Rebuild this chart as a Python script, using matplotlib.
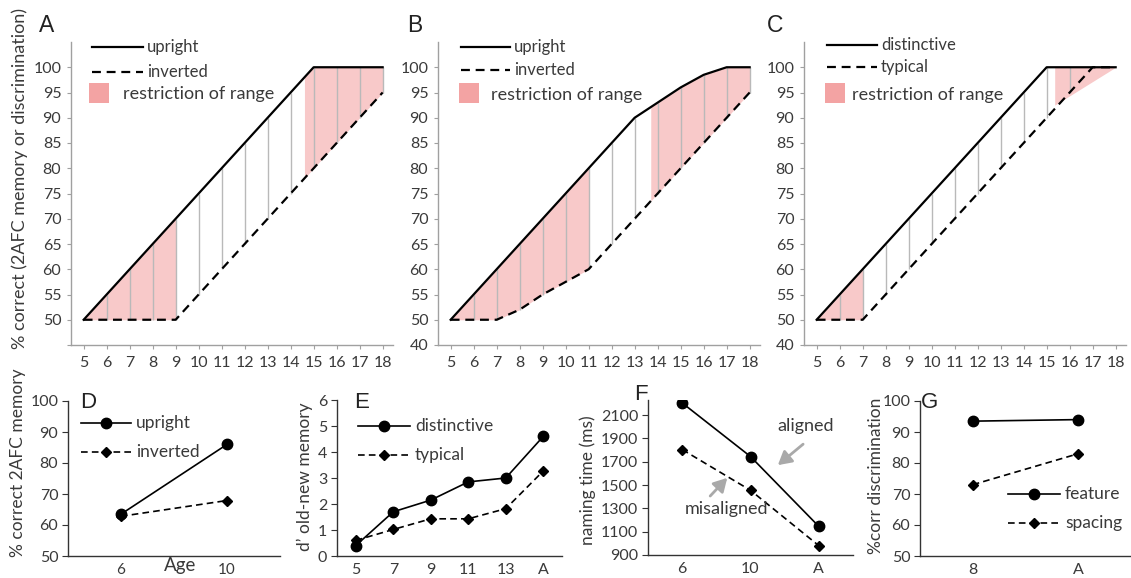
import matplotlib
matplotlib.use("Agg")
import matplotlib.pyplot as plt
import numpy as np
from matplotlib.lines import Line2D
from matplotlib.patches import Rectangle

plt.rcParams['font.family'] = ['Lato', 'DejaVu Sans']

# ---------------- data ----------------
ages = [5, 6, 7, 8, 9, 10, 11, 12, 13, 14, 15, 16, 17, 18]
upright_A = [50, 55, 60, 65, 70, 75, 80, 85, 90, 95, 100, 100, 100, 100]
inverted_A = [50, 50, 50, 50, 50, 55, 60, 65, 70, 75, 80, 85, 90, 95]
upright_B = [50, 55, 60, 65, 70, 75, 80, 85, 90, 93, 96, 98.5, 100, 100]
inverted_B = [50, 50, 50, 52, 55, 57.5, 60, 65, 70, 75, 80, 85, 90, 95]
distinctive_C = [50, 55, 60, 65, 70, 75, 80, 85, 90, 95, 100, 100, 100, 100]
typical_C = [50, 50, 50, 55, 60, 65, 70, 75, 80, 85, 90, 95, 100, 100]

shade_A = [(5, 9), (14.6, 18)]
shade_B = [(5, 11), (13.7, 18)]
shade_C = [(5, 7)]
shade_C_tri_x = [15.35, 18]
shade_C_tri_low = [92.5, 100]
shade_C_tri_high = [100, 100]

top_yticks = [45, 50, 55, 60, 65, 70, 75, 80, 85, 90, 95, 100]
top_yticklabels = ['40', '50', '55', '60', '65', '70', '75', '80', '85', '90', '95', '100']

groups_D = ['6', '10']
upright_D = [63.5, 86]
inverted_D = [62.8, 67.9]

groups_E = ['5', '7', '9', '11', '13', 'A']
distinctive_E = [0.4, 1.7, 2.15, 2.85, 3.0, 4.6]
typical_E = [0.6, 1.02, 1.43, 1.43, 1.82, 3.27]

groups_F = ['6', '10', 'A']
aligned_F = [2205, 1745, 1145]
misaligned_F = [1805, 1455, 980]

groups_G = ['8', 'A']
feature_G = [93.5, 94.0]
spacing_G = [73, 83]

# ---------------- layout helpers ----------------
W, H = 1131, 578
fig = plt.figure(figsize=(W / 100, H / 100), dpi=100)
fig.patch.set_facecolor('white')


def add_ax(left, top, right, bottom):
    return fig.add_axes([left / W, 1 - bottom / H, (right - left) / W, (bottom - top) / H])


def ftext(x, y, s, **kw):
    return fig.text(x / W, 1 - y / H, s, **kw)


def fline(xs, y, **kw):
    fig.add_artist(Line2D([x / W for x in xs], [1 - y / H] * len(xs),
                          transform=fig.transFigure, **kw))


PINK = '#f8c9c9'
PINK_LEG = '#f3a3a3'
GRAYLINE = '#b9b9b9'
SPINE_TOP = '#a0a0a0'
TXT = '#3a3a3a'
DASH = (0, (4, 2.6))
LETTER_FONT = ['Liberation Sans', 'DejaVu Sans']


def top_panel(left, up, lo, shades, leg_labels, letter, letter_x, show40=True, tri=None, leg=None):
    ax = add_ax(left, 42, left + 322, 345)
    ax.set_xlim(4.45, 18.45)
    ax.set_ylim(45, 105)
    for s in ['top', 'right']:
        ax.spines[s].set_visible(False)
    for s in ['left', 'bottom']:
        ax.spines[s].set_color(SPINE_TOP)
        ax.spines[s].set_linewidth(1)
    ax.set_xticks(ages)
    ax.set_xticklabels([str(a) for a in ages])
    ax.set_yticks(top_yticks)
    labs = list(top_yticklabels)
    if not show40:
        labs[0] = ''
    ax.set_yticklabels(labs)
    ax.tick_params(axis='both', direction='out', length=3, color=SPINE_TOP,
                   labelcolor=TXT, labelsize=11.5)
    ax.tick_params(axis='x', pad=5)
    ax.tick_params(axis='y', pad=4)
    # shading
    for a, b in shades:
        xs = np.linspace(a, b, 300)
        ax.fill_between(xs, np.interp(xs, ages, lo), np.interp(xs, ages, up),
                        color=PINK, lw=0, zorder=1)
    if tri is not None:
        tx, tlo, thi = tri
        ax.fill_between(tx, tlo, thi, color=PINK, lw=0, zorder=1)
    # gray connecting lines
    ax.vlines(ages, lo, up, colors=GRAYLINE, lw=1, zorder=2)
    ax.plot(ages, lo, color='black', lw=1.6, ls=DASH, zorder=3)
    ax.plot(ages, up, color='black', lw=1.6, zorder=4)
    # legend (manual)
    (lx0, lx1, ly1, ly2, sq_x, tx_r, ty_r) = leg
    fline([left + lx0, left + lx1], ly1, color='black', lw=1.6)
    ftext(left + lx1 + 4, ly1, leg_labels[0], fontsize=12, color=TXT, va='center', ha='left')
    fline([left + lx0, left + lx1], ly2, color='black', lw=1.6, ls=DASH)
    ftext(left + lx1 + 4, ly2, leg_labels[1], fontsize=12, color=TXT, va='center', ha='left')
    fig.add_artist(Rectangle(((left + sq_x) / W, 1 - 103 / H), 20 / W, 20 / H,
                             transform=fig.transFigure, color=PINK_LEG, lw=0))
    ftext(left + tx_r, ty_r, 'restriction of range', fontsize=13, color=TXT, va='center', ha='left')
    ftext(letter_x, 25, letter, fontsize=16.5, color='#222222', va='center', ha='center',
          family=LETTER_FONT)
    return ax


axA = top_panel(71, upright_A, inverted_A, shade_A, ['upright', 'inverted'], 'A', 47,
                show40=False, leg=(21, 72, 47, 72, 18, 52, 94))
axB = top_panel(438, upright_B, inverted_B, shade_B, ['upright', 'inverted'], 'B', 415,
                leg=(23, 72, 47, 70, 21, 53, 95))
axC = top_panel(804, distinctive_C, typical_C, shade_C, ['distinctive', 'typical'], 'C', 775,
                tri=(shade_C_tri_x, shade_C_tri_low, shade_C_tri_high),
                leg=(23, 73, 45, 67, 21, 48, 95))

ftext(20, 178, '% correct (2AFC memory or discrimination)', rotation=90, fontsize=13,
      color=TXT, va='center', ha='center')


# ---------------- bottom panels ----------------
def bottom_axes(left, top, right, bottom, ncat):
    ax = add_ax(left, top, right, bottom)
    ax.set_xlim(-0.5, ncat - 0.5)
    for s in ['top', 'right']:
        ax.spines[s].set_visible(False)
    for s in ['left', 'bottom']:
        ax.spines[s].set_color('#333333')
        ax.spines[s].set_linewidth(1)
    ax.tick_params(axis='y', direction='out', length=4, color='#333333', labelcolor=TXT,
                   labelsize=11.5, pad=3)
    ax.tick_params(axis='x', length=0, labelcolor=TXT, labelsize=11.5, pad=5)
    return ax


def two_series(ax, cats, s1, s2):
    xs = np.arange(len(cats))
    ax.plot(xs, s1, color='black', lw=1.2, marker='o', ms=7.5, zorder=3)
    ax.plot(xs, s2, color='black', lw=1.2, ls=(0, (4, 2.5)), marker='D', ms=5.5, zorder=3)
    ax.set_xticks(xs)
    ax.set_xticklabels(cats)


def bottom_legend(x0, x1, y1, y2, labels):
    xm = (x0 + x1) / 2
    fline([x0, xm, x1], y1, color='black', lw=1.2, marker='o', ms=7.5, markevery=[1])
    fline([x0, xm, x1], y2, color='black', lw=1.2, ls=(0, (4, 2.5)), marker='D', ms=5.5,
          markevery=[1])
    ftext(x1 + 5, y1, labels[0], fontsize=12.5, color=TXT, va='center', ha='left')
    ftext(x1 + 5, y2, labels[1], fontsize=12.5, color=TXT, va='center', ha='left')


# D
axD = bottom_axes(68, 401, 280, 556, len(groups_D))
two_series(axD, groups_D, upright_D, inverted_D)
axD.set_ylim(50, 100)
axD.set_yticks([50, 60, 70, 80, 90, 100])
axD.tick_params(axis='x', pad=5, labelsize=11)
bottom_legend(81, 131, 423, 452, ['upright', 'inverted'])
ftext(88, 402, 'D', fontsize=16, color='#222222', va='center', ha='center', family=LETTER_FONT)
ftext(180, 566, 'Age', fontsize=13.5, color=TXT, va='center', ha='center')
ftext(18, 463, '% correct 2AFC memory', rotation=90, fontsize=12.5, color=TXT, va='center', ha='center')

# E
axE = bottom_axes(337, 400, 562, 556, len(groups_E))
two_series(axE, groups_E, distinctive_E, typical_E)
axE.set_ylim(0, 6)
axE.set_yticks([0, 1, 2, 3, 4, 5, 6])
bottom_legend(358, 410, 426, 455, ['distinctive', 'typical'])
ftext(362, 402, 'E', fontsize=16, color='#222222', va='center', ha='center', family=LETTER_FONT)
ftext(305, 477, 'd\u2019 old-new memory', rotation=90, fontsize=12.5, color=TXT, va='center', ha='center')

# F
axF = bottom_axes(648, 400, 853, 555, len(groups_F))
two_series(axF, groups_F, aligned_F, misaligned_F)
axF.set_ylim(900, 2230)
axF.set_yticks([900, 1100, 1300, 1500, 1700, 1900, 2100])
ftext(641, 395, 'F', fontsize=16, color='#222222', va='center', ha='center', family=LETTER_FONT)
ftext(588, 480, 'naming time (ms)', rotation=90, fontsize=12.5, color=TXT, va='center', ha='center')
arrow_kw = dict(arrowstyle='-|>,head_length=0.8,head_width=0.45', color='#a9a9a9', lw=2.0,
                shrinkA=0, shrinkB=0)
axF.annotate('', xy=(1.40, 1671), xytext=(1.77, 1851), arrowprops=arrow_kw)
axF.annotate('', xy=(0.66, 1562), xytext=(0.41, 1406), arrowprops=arrow_kw)
axF.text(1.40, 2005, 'aligned', fontsize=13, color=TXT, va='center', ha='left')
axF.text(0.04, 1292, 'misaligned', fontsize=13, color=TXT, va='center', ha='left')

# G
axG = bottom_axes(920, 401, 1131, 556, len(groups_G))
two_series(axG, groups_G, feature_G, spacing_G)
axG.set_ylim(50, 100)
axG.set_yticks([50, 60, 70, 80, 90, 100])
bottom_legend(1008, 1060, 494, 523, ['feature', 'spacing'])
ftext(930, 402, 'G', fontsize=16, color='#222222', va='center', ha='center', family=LETTER_FONT)
ftext(876, 476, '%corr discrimination', rotation=90, fontsize=12.5, color=TXT, va='center', ha='center')

fig.savefig('out.png', dpi=100)
